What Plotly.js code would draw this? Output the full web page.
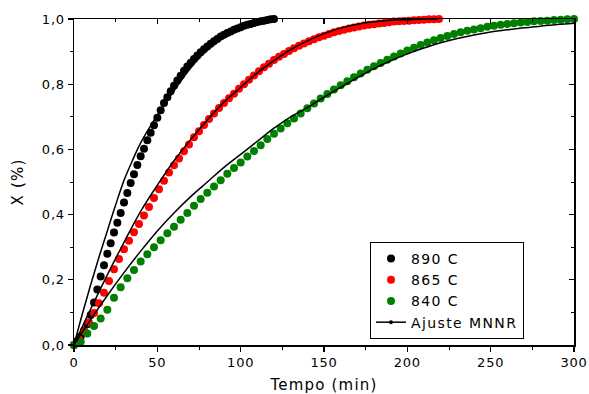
<!DOCTYPE html>
<html>
<head>
<meta charset="utf-8">
<script src="https://cdn.plot.ly/plotly-3.0.1.min.js"></script>
<style>
html,body{margin:0;padding:0;background:#fff;}
#chart{width:589px;height:394px;}
.xtick text,.ytick text{letter-spacing:0.8px;}
.xtitle,.ytitle{letter-spacing:1.2px;}
.legendtext{letter-spacing:1.4px;}
</style>
</head>
<body>
<div id="chart"></div>
<script>
// 890 C data (time in min, conversion fraction)
const t890 = [0,2,4,6,8,10,12,14,16,18,20,22,24,26,28,30,32,34,36,38,40,42,44,46,48,50,52,54,56,58,60,62,64,66,68,70,72,74,76,78,80,82,84,86,88,90,92,94,96,98,100,102,104,106,108,110,112,114,116,118,120];
const x890 = [0,0.012,0.026,0.044,0.064,0.092,0.13,0.17,0.21,0.245,0.28,0.312,0.345,0.375,0.405,0.437,0.466,0.497,0.524,0.552,0.579,0.602,0.628,0.651,0.674,0.697,0.72,0.742,0.76,0.778,0.795,0.811,0.826,0.841,0.854,0.866,0.877,0.888,0.898,0.907,0.916,0.924,0.932,0.939,0.946,0.952,0.957,0.962,0.967,0.971,0.975,0.979,0.982,0.985,0.988,0.991,0.993,0.995,0.997,0.999,1.0];

// 865 C data
const t865 = [0,3,6,9,12,15,18,21,24,27,30,33,36,39,42,45,48,51,54,57,60,63,66,69,72,75,78,81,84,87,90,93,96,99,102,105,108,111,114,117,120,123,126,129,132,135,138,141,144,147,150,153,156,159,162,165,168,171,174,177,180,183,186,189,192,195,198,201,204,207,210,213,216,219];
const x865 = [0,0.018,0.042,0.069,0.098,0.128,0.16,0.196,0.232,0.264,0.294,0.32,0.346,0.371,0.397,0.423,0.451,0.478,0.504,0.529,0.551,0.572,0.594,0.615,0.637,0.656,0.675,0.693,0.71,0.727,0.742,0.757,0.771,0.786,0.8,0.814,0.827,0.84,0.852,0.863,0.874,0.884,0.893,0.902,0.91,0.918,0.925,0.932,0.938,0.944,0.949,0.954,0.959,0.963,0.967,0.971,0.974,0.977,0.98,0.982,0.984,0.986,0.988,0.99,0.992,0.993,0.994,0.995,0.996,0.997,0.998,0.999,0.999,1.0];

// 840 C data
const t840 = [0,4,8,12,16,20,24,28,32,36,40,44,48,52,56,60,64,68,72,76,80,84,88,92,96,100,104,108,112,116,120,124,128,132,136,140,144,148,152,156,160,164,168,172,176,180,184,188,192,196,200,204,208,212,216,220,224,228,232,236,240,244,248,252,256,260,264,268,272,276,280,284,288,292,296,300];
const x840 = [0,0.01,0.035,0.058,0.081,0.108,0.145,0.177,0.205,0.23,0.256,0.278,0.3,0.321,0.343,0.363,0.384,0.405,0.427,0.448,0.467,0.486,0.505,0.525,0.543,0.56,0.578,0.595,0.613,0.632,0.648,0.664,0.68,0.695,0.71,0.726,0.741,0.756,0.77,0.784,0.797,0.809,0.821,0.833,0.844,0.855,0.865,0.875,0.885,0.894,0.903,0.912,0.92,0.928,0.935,0.942,0.948,0.954,0.959,0.964,0.968,0.972,0.976,0.979,0.982,0.985,0.987,0.989,0.991,0.993,0.994,0.995,0.997,0.998,0.999,1.0];

// MNNR fitted curves
const tFit890 = [0,5,10,15,20,25,30,35,40,50,60,70,80,90,100,110,120];
const xFit890 = [0,0.095,0.185,0.27,0.35,0.43,0.505,0.565,0.62,0.705,0.78,0.85,0.905,0.945,0.975,0.992,1.0];
const tFit865 = [0,10,20,30,40,50,60,70,80,90,100,110,120,130,140,150,160,170,180,190,200,210,218];
const xFit865 = [0,0.11,0.215,0.315,0.41,0.49,0.565,0.63,0.69,0.745,0.79,0.835,0.872,0.906,0.933,0.955,0.972,0.984,0.991,0.996,0.998,1.0,1.0];
const tFit840 = [0,10,20,30,40,50,60,70,80,90,100,110,120,130,140,150,160,170,180,190,200,210,220,230,240,250,260,270,280,290,300];
const xFit840 = [0,0.078,0.152,0.222,0.288,0.35,0.405,0.455,0.5,0.545,0.585,0.625,0.665,0.7,0.728,0.76,0.79,0.82,0.848,0.872,0.893,0.911,0.927,0.94,0.951,0.96,0.967,0.973,0.978,0.983,0.987];

const seriesNames = ['890 C','865 C','840 C'];
const fitName = 'Ajuste MNNR';
const xTitle = 'Tempo (min)';
const yTitle = 'X (%)';

const dotSize = 8;
function dots(t, x, name, color) {
  return {x: t, y: x, name: name, type: 'scatter', mode: 'markers',
    marker: {color: color, size: dotSize}, cliponaxis: false, hoverinfo: 'skip'};
}
function fit(t, x) {
  return {x: t, y: x, type: 'scatter', mode: 'lines', showlegend: false,
    line: {color: '#000', width: 1.5, shape: 'spline'}, cliponaxis: false, hoverinfo: 'skip'};
}
const data = [
  dots(t890, x890, seriesNames[0], '#000000'),
  dots(t865, x865, seriesNames[1], '#ff0000'),
  dots(t840, x840, seriesNames[2], '#008000'),
  fit(tFit890, xFit890),
  fit(tFit865, xFit865),
  fit(tFit840, xFit840),
  {x: [null], y: [null], name: fitName, type: 'scatter', mode: 'lines+markers',
   line: {color: '#000', width: 1.5}, marker: {color: '#000', size: 4}},
  {x: [null], y: [null], xaxis: 'x2', yaxis: 'y2', type: 'scatter', mode: 'markers', showlegend: false}
];

const axCommon = {showgrid: false, zeroline: false, showline: true, linecolor: '#000', linewidth: 1.5,
  tickcolor: '#000', tickwidth: 1.3, ticklen: 5};
const layout = {
  width: 589, height: 394,
  margin: {l: 74, r: 15, t: 19, b: 49},
  separators: ',.',
  paper_bgcolor: '#fff', plot_bgcolor: '#fff',
  font: {family: 'DejaVu Sans', size: 13, color: '#000'},
  showlegend: true,
  legend: {x: 0.592, y: 0.316, xanchor: 'left', yanchor: 'top', bordercolor: '#000', borderwidth: 1,
    bgcolor: '#fff', font: {size: 14, family: 'DejaVu Sans'}, tracegroupgap: 0, itemwidth: 30},
  xaxis: Object.assign({}, axCommon, {range: [0, 300], tick0: 0, dtick: 50, ticks: 'outside',
    minor: {dtick: 25, ticks: 'outside', ticklen: 3, tickcolor: '#000', tickwidth: 1},
    title: {text: xTitle, font: {size: 15}, standoff: 12}}),
  yaxis: Object.assign({}, axCommon, {range: [0, 1], tick0: 0, dtick: 0.2, tickformat: '.1f', ticks: 'outside',
    minor: {dtick: 0.1, ticks: 'outside', ticklen: 3, tickcolor: '#000', tickwidth: 1},
    title: {text: yTitle, font: {size: 15}, standoff: 14}}),
  xaxis2: Object.assign({}, axCommon, {overlaying: 'x', side: 'top', range: [0, 300], tick0: 0, dtick: 50,
    ticks: 'inside', showticklabels: false,
    minor: {dtick: 25, ticks: 'inside', ticklen: 3, tickcolor: '#000', tickwidth: 1}}),
  yaxis2: Object.assign({}, axCommon, {overlaying: 'y', side: 'right', range: [0, 1], tick0: 0, dtick: 0.2,
    ticks: 'inside', showticklabels: false,
    minor: {dtick: 0.1, ticks: 'inside', ticklen: 3, tickcolor: '#000', tickwidth: 1}})
};
Plotly.newPlot('chart', data, layout, {staticPlot: true, displayModeBar: false});
</script>
</body>
</html>
